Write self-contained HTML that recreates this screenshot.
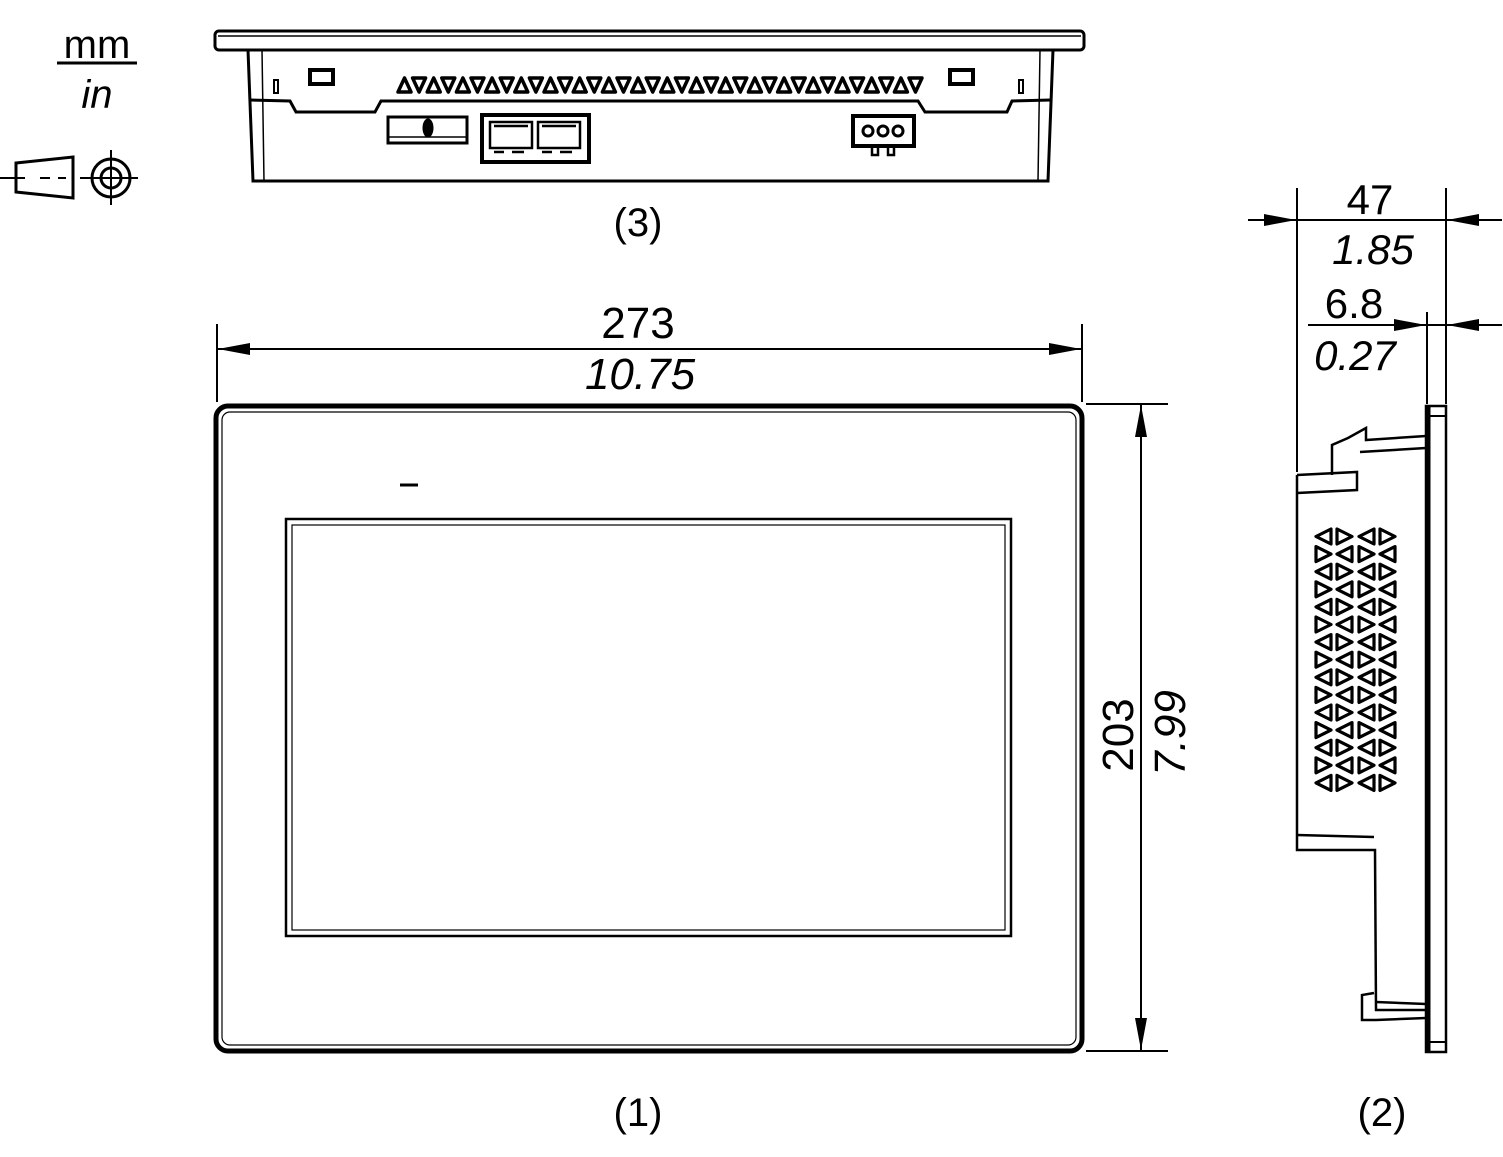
<!DOCTYPE html>
<html><head><meta charset="utf-8"><style>
html,body{margin:0;padding:0;background:#fff;}
svg{display:block;}
text{font-family:"Liberation Sans",sans-serif;fill:#000;}
</style></head><body>
<svg id="s" width="1503" height="1157" viewBox="0 0 1503 1157" xmlns="http://www.w3.org/2000/svg">
<defs>
<marker id="a" viewBox="0 0 32 12" refX="32" refY="6" markerWidth="32" markerHeight="12" markerUnits="userSpaceOnUse" orient="auto"><path d="M0,0 L32,6 L0,12z" fill="#000"/></marker>
</defs>
<g fill="none" stroke="#000">
<line x1="57" y1="63" x2="137" y2="63" stroke-width="3"/>
<path d="M16,163 L73,157 L73,198 L16,192 Z" stroke-width="3"/>
<line x1="0" y1="178" x2="25" y2="178" stroke-width="2"/>
<line x1="40" y1="178" x2="50" y2="178" stroke-width="2"/>
<line x1="58" y1="178" x2="66" y2="178" stroke-width="2"/>
<line x1="80" y1="178" x2="138" y2="178" stroke-width="2"/>
<line x1="111" y1="150" x2="111" y2="205" stroke-width="2"/>
<circle cx="111" cy="178" r="19" stroke-width="3"/>
<circle cx="111" cy="178" r="10" stroke-width="3"/>

<rect x="215" y="31" width="869" height="19" rx="4" stroke-width="3"/>
<line x1="218" y1="36" x2="1081" y2="36" stroke-width="1.5"/>
<path d="M248,50 L253,181 L1048,181 L1053,50" stroke-width="3"/>
<line x1="262" y1="50" x2="264" y2="181" stroke-width="1.5"/>
<line x1="1040" y1="50" x2="1038" y2="181" stroke-width="1.5"/>
<path d="M250,100 L290,101 L296,112 L375,112 L381,101 L918,101 L925,112 L1007,112 L1012,101 L1051,100" stroke-width="3"/>
<rect x="310" y="70" width="23" height="14" stroke-width="4"/>
<rect x="950" y="70" width="23" height="14" stroke-width="4"/>
<rect x="274" y="80" width="4" height="13" stroke-width="2"/>
<rect x="1019" y="80" width="4" height="13" stroke-width="2"/>
<rect x="388" y="117" width="79" height="26" stroke-width="3"/>
<line x1="388" y1="137" x2="467" y2="137" stroke-width="1.5"/>
<ellipse cx="428" cy="128" rx="5" ry="9" fill="#000"/>
<rect x="482" y="115" width="107" height="47" stroke-width="4"/>
<rect x="490" y="122" width="42" height="26" stroke-width="2.5"/>
<rect x="538" y="122" width="42" height="26" stroke-width="2.5"/>
<path d="M494,126 h34 M542,126 h34 M494,152 h10 M512,152 h12 M542,152 h10 M560,152 h12" stroke-width="2.5"/>
<rect x="853" y="116" width="61" height="30" stroke-width="4"/>
<circle cx="868" cy="131" r="5" stroke-width="3"/><circle cx="883" cy="131" r="5" stroke-width="3"/><circle cx="898" cy="131" r="5" stroke-width="3"/>
<rect x="872" y="146" width="6" height="9" stroke-width="2.5"/><rect x="888" y="146" width="6" height="9" stroke-width="2.5"/>
<g id="tv" stroke-width="3.5" stroke-linejoin="round"></g>

<rect x="216" y="406" width="866" height="645" rx="12" stroke-width="5"/>
<rect x="222" y="412" width="854" height="633" rx="8" stroke-width="1.2"/>
<rect x="286" y="519" width="725" height="417" stroke-width="2.5"/>
<rect x="292" y="525" width="713" height="405" stroke-width="1.2"/>
<line x1="400" y1="485" x2="418" y2="485" stroke-width="3"/>

<line x1="217" y1="324" x2="217" y2="402" stroke-width="2"/>
<line x1="1082" y1="324" x2="1082" y2="402" stroke-width="2"/>
<line x1="260" y1="349" x2="218" y2="349" stroke-width="2" marker-end="url(#a)"/>
<line x1="260" y1="349" x2="1081" y2="349" stroke-width="2" marker-end="url(#a)"/>
<line x1="1086" y1="404" x2="1168" y2="404" stroke-width="2"/>
<line x1="1086" y1="1051" x2="1168" y2="1051" stroke-width="2"/>
<line x1="1141" y1="450" x2="1141" y2="405" stroke-width="2" marker-end="url(#a)"/>
<line x1="1141" y1="450" x2="1141" y2="1050" stroke-width="2" marker-end="url(#a)"/>

<rect x="1426" y="406" width="20" height="646" stroke-width="2.5"/>
<line x1="1428" y1="406" x2="1428" y2="1052" stroke-width="5"/>
<line x1="1428" y1="416" x2="1446" y2="416" stroke-width="2"/>
<line x1="1428" y1="1042" x2="1446" y2="1042" stroke-width="2"/>
<path d="M1297,475 L1297,850 L1375,850 L1376,1010 L1426,1010" stroke-width="2.5"/>
<path d="M1297,475 L1357,472 L1357,490 L1297,493" stroke-width="2.5"/>
<path d="M1332,475 L1332,445 L1348,438 L1366,428 L1366,440 L1426,436" stroke-width="2.5"/>
<path d="M1360,452 L1426,448" stroke-width="2.5"/>
<path d="M1297,835 L1374,837" stroke-width="2.5"/>
<path d="M1362,1010 L1362,995 L1374,993 M1362,1010 L1362,1020 L1376,1020 L1426,1018" stroke-width="2.5"/>
<path d="M1376,1002 L1426,1004" stroke-width="2.5"/>
<g id="sv" stroke-width="3.2" stroke-linejoin="round"></g>
<line x1="1297" y1="188" x2="1297" y2="472" stroke-width="2"/>
<line x1="1446" y1="188" x2="1446" y2="404" stroke-width="2"/>
<line x1="1427" y1="312" x2="1427" y2="404" stroke-width="2"/>
<line x1="1248" y1="220" x2="1296" y2="220" stroke-width="2" marker-end="url(#a)"/>
<line x1="1297" y1="220" x2="1446" y2="220" stroke-width="2"/>
<line x1="1502" y1="220" x2="1447" y2="220" stroke-width="2" marker-end="url(#a)"/>
<line x1="1308" y1="325" x2="1426" y2="325" stroke-width="2" marker-end="url(#a)"/>
<line x1="1427" y1="325" x2="1446" y2="325" stroke-width="2"/>
<line x1="1502" y1="325" x2="1447" y2="325" stroke-width="2" marker-end="url(#a)"/>
</g>

<text x="97" y="58" font-size="40" text-anchor="middle">mm</text>
<text x="97" y="108" font-size="40" text-anchor="middle" font-style="italic">in</text>
<text x="638" y="236" font-size="40" text-anchor="middle">(3)</text>
<text x="638" y="338" font-size="44" text-anchor="middle">273</text>
<text x="640" y="389" font-size="44" text-anchor="middle" font-style="italic">10.75</text>
<text x="638" y="1126" font-size="40" text-anchor="middle">(1)</text>
<text x="1382" y="1126" font-size="40" text-anchor="middle">(2)</text>
<text transform="translate(1133,735) rotate(-90)" font-size="44" text-anchor="middle">203</text>
<text transform="translate(1185,733) rotate(-90)" font-size="44" text-anchor="middle" font-style="italic">7.99</text>
<text x="1370" y="214" font-size="42" text-anchor="middle">47</text>
<text x="1373" y="264" font-size="42" text-anchor="middle" font-style="italic">1.85</text>
<text x="1354" y="318" font-size="42" text-anchor="middle">6.8</text>
<text x="1355" y="370" font-size="42" text-anchor="middle" font-style="italic">0.27</text>
<script>
var ns="http://www.w3.org/2000/svg";
var tv=document.getElementById("tv");
for(var i=0;i<36;i++){var x=398+i*14.6,up=i%2==0,p=document.createElementNS(ns,"path");
p.setAttribute("d",up?("M"+(x+6.5)+",78 L"+(x+13)+",92 L"+x+",92Z"):("M"+x+",78 L"+(x+13)+",78 L"+(x+6.5)+",92Z"));tv.appendChild(p);}
var sv=document.getElementById("sv");var cols=[1316,1337,1359,1380];
for(var r=0;r<15;r++){for(var c=0;c<4;c++){var x=cols[c],y=529+r*17.6,right=(r+c)%2==1,p=document.createElementNS(ns,"path");
p.setAttribute("d",right?("M"+x+","+y+" L"+(x+15)+","+(y+7.5)+" L"+x+","+(y+15)+"Z"):("M"+(x+15)+","+y+" L"+x+","+(y+7.5)+" L"+(x+15)+","+(y+15)+"Z"));sv.appendChild(p);}}
</script>
</svg>
</body></html>
